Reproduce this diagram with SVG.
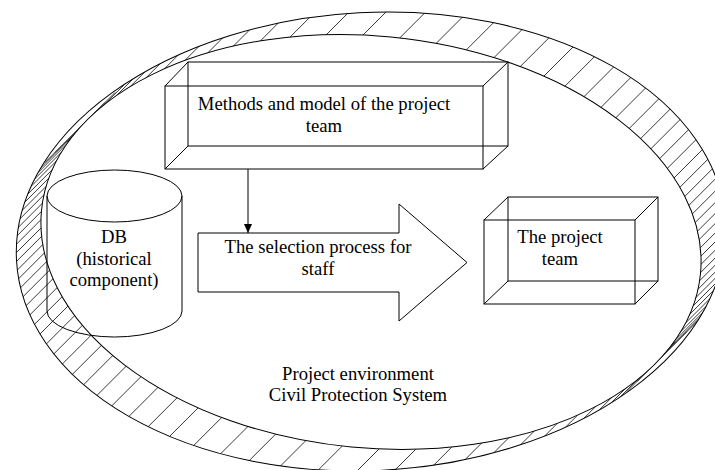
<svg xmlns="http://www.w3.org/2000/svg" width="715" height="470" viewBox="0 0 715 470">
<style>
  .ln{fill:none;stroke:#000;stroke-width:1}
  .hat{stroke:#222;stroke-width:0.9}
  .tx{font-family:"Liberation Serif","Times New Roman",serif;font-size:18.67px;fill:#000;text-anchor:middle}
</style>
<defs>
  <mask id="band" maskUnits="userSpaceOnUse" x="0" y="0" width="715" height="470">
    <ellipse cx="371" cy="241.5" rx="355" ry="229" transform="rotate(-3 371 241.5)" fill="#fff"/>
    <ellipse cx="371" cy="242" rx="331" ry="206" transform="rotate(5.5 371 242)" fill="#000"/>
  </mask>
  <line id="h" class="hat" x1="-30" y1="30" x2="30" y2="-30"/>
  <marker id="ah" markerWidth="10" markerHeight="10" refX="9" refY="5" orient="auto" markerUnits="userSpaceOnUse">
    <path d="M0,1 L9,5 L0,9 Z" fill="#000"/>
  </marker>
</defs>
<rect width="715" height="470" fill="#fff"/>

<g id="environment">
  <g mask="url(#band)">
    <g transform="translate(371 242) scale(1.6 1)">
      <use href="#h" transform="rotate(0) translate(215) rotate(0) scale(.625 1)"/>
      <use href="#h" transform="rotate(2.3) translate(215) rotate(-2.3) scale(.625 1)"/>
      <use href="#h" transform="rotate(4.6) translate(215) rotate(-4.6) scale(.625 1)"/>
      <use href="#h" transform="rotate(6.9) translate(215) rotate(-6.9) scale(.625 1)"/>
      <use href="#h" transform="rotate(9.3) translate(215) rotate(-9.3) scale(.625 1)"/>
      <use href="#h" transform="rotate(11.7) translate(215) rotate(-11.7) scale(.625 1)"/>
      <use href="#h" transform="rotate(14.1) translate(215) rotate(-14.1) scale(.625 1)"/>
      <use href="#h" transform="rotate(16.6) translate(215) rotate(-16.6) scale(.625 1)"/>
      <use href="#h" transform="rotate(19.2) translate(215) rotate(-19.2) scale(.625 1)"/>
      <use href="#h" transform="rotate(21.9) translate(215) rotate(-21.9) scale(.625 1)"/>
      <use href="#h" transform="rotate(24.7) translate(215) rotate(-24.7) scale(.625 1)"/>
      <use href="#h" transform="rotate(27.6) translate(215) rotate(-27.6) scale(.625 1)"/>
      <use href="#h" transform="rotate(30.6) translate(215) rotate(-30.6) scale(.625 1)"/>
      <use href="#h" transform="rotate(33.8) translate(215) rotate(-33.8) scale(.625 1)"/>
      <use href="#h" transform="rotate(37.1) translate(215) rotate(-37.1) scale(.625 1)"/>
      <use href="#h" transform="rotate(40.7) translate(215) rotate(-40.7) scale(.625 1)"/>
      <use href="#h" transform="rotate(44.4) translate(215) rotate(-44.4) scale(.625 1)"/>
      <use href="#h" transform="rotate(48.4) translate(215) rotate(-48.4) scale(.625 1)"/>
      <use href="#h" transform="rotate(52.6) translate(215) rotate(-52.6) scale(.625 1)"/>
      <use href="#h" transform="rotate(57) translate(215) rotate(-57) scale(.625 1)"/>
      <use href="#h" transform="rotate(61.7) translate(215) rotate(-61.7) scale(.625 1)"/>
      <use href="#h" transform="rotate(66.7) translate(215) rotate(-66.7) scale(.625 1)"/>
      <use href="#h" transform="rotate(71.8) translate(215) rotate(-71.8) scale(.625 1)"/>
      <use href="#h" transform="rotate(77.2) translate(215) rotate(-77.2) scale(.625 1)"/>
      <use href="#h" transform="rotate(83.6) translate(215) rotate(-83.6) scale(.625 1)"/>
      <use href="#h" transform="rotate(90) translate(215) rotate(-90) scale(.625 1)"/>
      <use href="#h" transform="rotate(96.4) translate(215) rotate(-96.4) scale(.625 1)"/>
      <use href="#h" transform="rotate(102.8) translate(215) rotate(-102.8) scale(.625 1)"/>
      <use href="#h" transform="rotate(108.2) translate(215) rotate(-108.2) scale(.625 1)"/>
      <use href="#h" transform="rotate(113.3) translate(215) rotate(-113.3) scale(.625 1)"/>
      <use href="#h" transform="rotate(118.3) translate(215) rotate(-118.3) scale(.625 1)"/>
      <use href="#h" transform="rotate(123) translate(215) rotate(-123) scale(.625 1)"/>
      <use href="#h" transform="rotate(127.4) translate(215) rotate(-127.4) scale(.625 1)"/>
      <use href="#h" transform="rotate(131.6) translate(215) rotate(-131.6) scale(.625 1)"/>
      <use href="#h" transform="rotate(135.6) translate(215) rotate(-135.6) scale(.625 1)"/>
      <use href="#h" transform="rotate(139.3) translate(215) rotate(-139.3) scale(.625 1)"/>
      <use href="#h" transform="rotate(142.9) translate(215) rotate(-142.9) scale(.625 1)"/>
      <use href="#h" transform="rotate(146.2) translate(215) rotate(-146.2) scale(.625 1)"/>
      <use href="#h" transform="rotate(149.4) translate(215) rotate(-149.4) scale(.625 1)"/>
      <use href="#h" transform="rotate(152.4) translate(215) rotate(-152.4) scale(.625 1)"/>
      <use href="#h" transform="rotate(155.3) translate(215) rotate(-155.3) scale(.625 1)"/>
      <use href="#h" transform="rotate(158.1) translate(215) rotate(-158.1) scale(.625 1)"/>
      <use href="#h" transform="rotate(160.8) translate(215) rotate(-160.8) scale(.625 1)"/>
      <use href="#h" transform="rotate(163.4) translate(215) rotate(-163.4) scale(.625 1)"/>
      <use href="#h" transform="rotate(165.9) translate(215) rotate(-165.9) scale(.625 1)"/>
      <use href="#h" transform="rotate(168.3) translate(215) rotate(-168.3) scale(.625 1)"/>
      <use href="#h" transform="rotate(170.7) translate(215) rotate(-170.7) scale(.625 1)"/>
      <use href="#h" transform="rotate(173.1) translate(215) rotate(-173.1) scale(.625 1)"/>
      <use href="#h" transform="rotate(175.4) translate(215) rotate(-175.4) scale(.625 1)"/>
      <use href="#h" transform="rotate(177.7) translate(215) rotate(-177.7) scale(.625 1)"/>
      <use href="#h" transform="rotate(180) translate(215) rotate(-180) scale(.625 1)"/>
      <use href="#h" transform="rotate(182.3) translate(215) rotate(-182.3) scale(.625 1)"/>
      <use href="#h" transform="rotate(184.6) translate(215) rotate(-184.6) scale(.625 1)"/>
      <use href="#h" transform="rotate(186.9) translate(215) rotate(-186.9) scale(.625 1)"/>
      <use href="#h" transform="rotate(189.3) translate(215) rotate(-189.3) scale(.625 1)"/>
      <use href="#h" transform="rotate(191.7) translate(215) rotate(-191.7) scale(.625 1)"/>
      <use href="#h" transform="rotate(194.1) translate(215) rotate(-194.1) scale(.625 1)"/>
      <use href="#h" transform="rotate(196.6) translate(215) rotate(-196.6) scale(.625 1)"/>
      <use href="#h" transform="rotate(199.2) translate(215) rotate(-199.2) scale(.625 1)"/>
      <use href="#h" transform="rotate(201.9) translate(215) rotate(-201.9) scale(.625 1)"/>
      <use href="#h" transform="rotate(204.7) translate(215) rotate(-204.7) scale(.625 1)"/>
      <use href="#h" transform="rotate(207.6) translate(215) rotate(-207.6) scale(.625 1)"/>
      <use href="#h" transform="rotate(210.6) translate(215) rotate(-210.6) scale(.625 1)"/>
      <use href="#h" transform="rotate(213.8) translate(215) rotate(-213.8) scale(.625 1)"/>
      <use href="#h" transform="rotate(217.1) translate(215) rotate(-217.1) scale(.625 1)"/>
      <use href="#h" transform="rotate(220.7) translate(215) rotate(-220.7) scale(.625 1)"/>
      <use href="#h" transform="rotate(224.4) translate(215) rotate(-224.4) scale(.625 1)"/>
      <use href="#h" transform="rotate(228.4) translate(215) rotate(-228.4) scale(.625 1)"/>
      <use href="#h" transform="rotate(232.6) translate(215) rotate(-232.6) scale(.625 1)"/>
      <use href="#h" transform="rotate(237) translate(215) rotate(-237) scale(.625 1)"/>
      <use href="#h" transform="rotate(241.7) translate(215) rotate(-241.7) scale(.625 1)"/>
      <use href="#h" transform="rotate(246.7) translate(215) rotate(-246.7) scale(.625 1)"/>
      <use href="#h" transform="rotate(251.8) translate(215) rotate(-251.8) scale(.625 1)"/>
      <use href="#h" transform="rotate(257.2) translate(215) rotate(-257.2) scale(.625 1)"/>
      <use href="#h" transform="rotate(263.6) translate(215) rotate(-263.6) scale(.625 1)"/>
      <use href="#h" transform="rotate(270) translate(215) rotate(-270) scale(.625 1)"/>
      <use href="#h" transform="rotate(276.4) translate(215) rotate(-276.4) scale(.625 1)"/>
      <use href="#h" transform="rotate(282.8) translate(215) rotate(-282.8) scale(.625 1)"/>
      <use href="#h" transform="rotate(288.2) translate(215) rotate(-288.2) scale(.625 1)"/>
      <use href="#h" transform="rotate(293.3) translate(215) rotate(-293.3) scale(.625 1)"/>
      <use href="#h" transform="rotate(298.3) translate(215) rotate(-298.3) scale(.625 1)"/>
      <use href="#h" transform="rotate(303) translate(215) rotate(-303) scale(.625 1)"/>
      <use href="#h" transform="rotate(307.4) translate(215) rotate(-307.4) scale(.625 1)"/>
      <use href="#h" transform="rotate(311.6) translate(215) rotate(-311.6) scale(.625 1)"/>
      <use href="#h" transform="rotate(315.6) translate(215) rotate(-315.6) scale(.625 1)"/>
      <use href="#h" transform="rotate(319.3) translate(215) rotate(-319.3) scale(.625 1)"/>
      <use href="#h" transform="rotate(322.9) translate(215) rotate(-322.9) scale(.625 1)"/>
      <use href="#h" transform="rotate(326.2) translate(215) rotate(-326.2) scale(.625 1)"/>
      <use href="#h" transform="rotate(329.4) translate(215) rotate(-329.4) scale(.625 1)"/>
      <use href="#h" transform="rotate(332.4) translate(215) rotate(-332.4) scale(.625 1)"/>
      <use href="#h" transform="rotate(335.3) translate(215) rotate(-335.3) scale(.625 1)"/>
      <use href="#h" transform="rotate(338.1) translate(215) rotate(-338.1) scale(.625 1)"/>
      <use href="#h" transform="rotate(340.8) translate(215) rotate(-340.8) scale(.625 1)"/>
      <use href="#h" transform="rotate(343.4) translate(215) rotate(-343.4) scale(.625 1)"/>
      <use href="#h" transform="rotate(345.9) translate(215) rotate(-345.9) scale(.625 1)"/>
      <use href="#h" transform="rotate(348.3) translate(215) rotate(-348.3) scale(.625 1)"/>
      <use href="#h" transform="rotate(350.7) translate(215) rotate(-350.7) scale(.625 1)"/>
      <use href="#h" transform="rotate(353.1) translate(215) rotate(-353.1) scale(.625 1)"/>
      <use href="#h" transform="rotate(355.4) translate(215) rotate(-355.4) scale(.625 1)"/>
      <use href="#h" transform="rotate(357.7) translate(215) rotate(-357.7) scale(.625 1)"/>
    </g>
  </g>
  <ellipse class="ln" cx="371" cy="241.5" rx="355" ry="229" transform="rotate(-3 371 241.5)"/>
  <ellipse class="ln" cx="371" cy="242" rx="331" ry="206" transform="rotate(5.5 371 242)"/>
  <text class="tx" x="358" y="380">Project environment</text>
  <text class="tx" x="358" y="401">Civil Protection System</text>
</g>

<g id="db">
  <ellipse class="ln" cx="114.5" cy="196" rx="67.5" ry="26"/>
  <path class="ln" d="M47,196 V311 A67.5,26 0 0 0 182,311 V196"/>
  <text class="tx" x="114" y="243">DB</text>
  <text class="tx" x="114" y="265">(historical</text>
  <text class="tx" x="114" y="286">component)</text>
</g>

<g id="methods">
  <rect class="ln" x="188" y="62" width="320" height="84"/>
  <rect class="ln" x="165" y="86" width="318" height="83"/>
  <path class="ln" d="M165,86 L188,62 M483,86 L508,62 M165,169 L188,146 M483,169 L508,146"/>
  <text class="tx" x="324" y="110">Methods and model of the project</text>
  <text class="tx" x="324" y="132">team</text>
</g>

<g id="selection">
  <path class="ln" d="M198,233 H399 V204 L467,262.5 L399,321 V292 H198 Z" style="fill:#fff"/>
  <text class="tx" x="318" y="253">The selection process for</text>
  <text class="tx" x="318" y="275">staff</text>
</g>

<g id="team">
  <rect class="ln" x="508" y="197" width="150" height="84"/>
  <rect class="ln" x="484" y="220" width="151" height="84"/>
  <path class="ln" d="M484,220 L508,197 M635,220 L658,197 M484,304 L508,281 M635,304 L658,281"/>
  <text class="tx" x="560" y="243">The project</text>
  <text class="tx" x="560" y="265">team</text>
</g>

<g id="connectors">
  <line class="ln" x1="248" y1="169" x2="248" y2="233" marker-end="url(#ah)"/>
</g>
</svg>
